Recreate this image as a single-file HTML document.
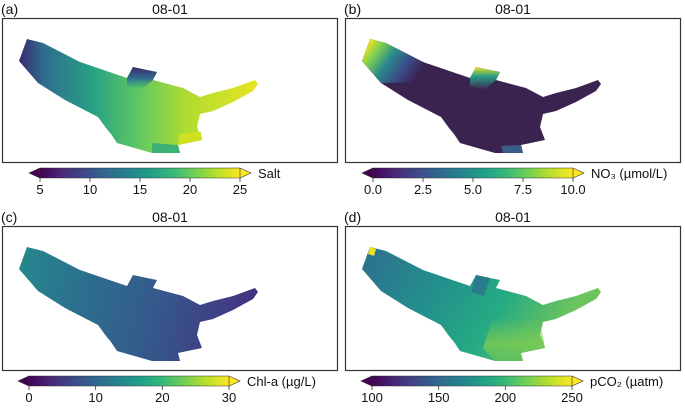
<!DOCTYPE html>
<html><head><meta charset="utf-8"><style>
body{margin:0;background:#fff;}
svg{display:block;font-family:"Liberation Sans",sans-serif;}
</style></head><body>
<svg id="fig" width="685" height="408" viewBox="0 0 685 408">
<defs>
<linearGradient id="viridis" x1="0" x2="1" y1="0" y2="0">
<stop offset="0" stop-color="#440154"/><stop offset="0.11" stop-color="#482878"/><stop offset="0.22" stop-color="#3e4989"/><stop offset="0.33" stop-color="#31688e"/><stop offset="0.44" stop-color="#26828e"/><stop offset="0.55" stop-color="#1f9e89"/><stop offset="0.66" stop-color="#35b779"/><stop offset="0.77" stop-color="#6ece58"/><stop offset="0.88" stop-color="#b5de2b"/><stop offset="1" stop-color="#fde725"/>
</linearGradient>
<linearGradient id="ga" gradientUnits="userSpaceOnUse" x1="20" x2="258" y1="0" y2="0">
<stop offset="0" stop-color="#3b2a6e"/><stop offset="0.1" stop-color="#2f6d8e"/><stop offset="0.3" stop-color="#27a085"/><stop offset="0.5" stop-color="#60c862"/><stop offset="0.7" stop-color="#b0dc30"/><stop offset="1" stop-color="#e6e420"/>
</linearGradient>
<linearGradient id="gaC" x1="0" x2="0" y1="0" y2="1">
<stop offset="0" stop-color="#3b2a6e"/><stop offset="0.5" stop-color="#2f6d8e"/><stop offset="1" stop-color="#27a085" stop-opacity="0"/>
</linearGradient>
<linearGradient id="gbT" gradientUnits="userSpaceOnUse" x1="27" x2="75" y1="40" y2="75">
<stop offset="0" stop-color="#f0e020"/><stop offset="0.2" stop-color="#7fd050"/><stop offset="0.45" stop-color="#2a8a8c"/><stop offset="0.75" stop-color="#3b4a88"/><stop offset="1" stop-color="#3b2350"/>
</linearGradient>
<linearGradient id="gbC" x1="0" x2="0" y1="0" y2="1">
<stop offset="0" stop-color="#e8e020"/><stop offset="0.4" stop-color="#2aa087"/><stop offset="1" stop-color="#3b2350"/>
</linearGradient>
<linearGradient id="gc" gradientUnits="userSpaceOnUse" x1="20" x2="258" y1="40" y2="100">
<stop offset="0" stop-color="#24898c"/><stop offset="0.25" stop-color="#2b728e"/><stop offset="0.6" stop-color="#35598c"/><stop offset="1" stop-color="#45307f"/>
</linearGradient>
<linearGradient id="gd" gradientUnits="userSpaceOnUse" x1="20" x2="200" y1="40" y2="150">
<stop offset="0" stop-color="#2d6f8e"/><stop offset="0.4" stop-color="#23908c"/><stop offset="0.7" stop-color="#25ab82"/><stop offset="1" stop-color="#6cc45c"/>
</linearGradient>
<linearGradient id="gdF" x1="0" x2="0" y1="0" y2="1">
<stop offset="0" stop-color="#7ccc52" stop-opacity="0"/><stop offset="0.6" stop-color="#7ccc52" stop-opacity="0.8"/><stop offset="1" stop-color="#6cc45c" stop-opacity="0.6"/>
</linearGradient>
</defs>

<g id="panels"></g>
<g id="bars"></g>
</svg>
<script>
// shape outline (panel a coords)
const shapePts = "27,39 43,43 80,62 127,78 133,67 147,70 157,72 153,80 183,88 200,97 213,93 233,88 255,80 258,84 253,91 233,102 213,111 200,114 197,127 202,140 178,145 180,153 152,153 117,143 111,134 106,128 98,117 65,100 38,83 19,61";
const channelPts = "133,67 147,70 157,72 153,80 141,90 127,86 127,78";

// colorbar data
const panelLabels = ["(a)","(b)","(c)","(d)"];
const panelTitles = ["08-01","08-01","08-01","08-01"];
const varNames = ["Salt","NO₃ (µmol/L)","Chl-a (µg/L)","pCO₂ (µatm)"];
const ticksA = [5,10,15,20,25];
const ticksB = ["0.0","2.5","5.0","7.5","10.0"];
const ticksC = [0,10,20,30];
const ticksD = [100,150,200,250];
const tickSets = [ticksA,ticksB,ticksC,ticksD];
const fills = ["url(#ga)","#3b2350","url(#gc)","url(#gd)"];
const offsets = [[0,0],[343,0],[0,208],[343,208]];
const barLeft = [40,373,29,372];
const barW = 200;
const NS="http://www.w3.org/2000/svg";
function mk(t,a,p){const e=document.createElementNS(NS,t);for(const k in a)e.setAttribute(k,a[k]);p.appendChild(e);return e;}
const P=document.getElementById('panels'), B=document.getElementById('bars');

for(let i=0;i<4;i++){
  const [ox,oy]=offsets[i];
  const g=mk('g',{transform:`translate(${ox},${oy})`},P);
  
  
  const box=mk('rect',{x:2.5,y:18.5,width:335,height:144,fill:'none',stroke:'#333','stroke-width':1.2},g);
  
  
  const lab=mk('text',{x:1,y:14,'font-size':14,fill:'#111'},g); lab.textContent=panelLabels[i];
  
  
  const ti=mk('text',{x:170,y:14,'font-size':14,fill:'#111','text-anchor':'middle'},g); ti.textContent=panelTitles[i];
  
  
  const sh=mk('polygon',{points:shapePts,fill:fills[i]},g);
  
  
  if(i===0){
    const c=mk('polygon',{points:channelPts,fill:'url(#gaC)'},g);
    
    
    mk('polygon',{points:"152,143 178,145 180,153 152,153",fill:'#3cb374'},g);
    mk('polygon',{points:"179,134 201,132 202,140 178,145",fill:'#d0e020'},g);
  }
  if(i===1){
    mk('polygon',{points:"27,39 43,43 80,62 75,82 38,83 19,61",fill:'url(#gbT)'},g);
    const c=mk('polygon',{points:channelPts,fill:'url(#gbC)'},g);
    
    
    mk('polygon',{points:"158,146 178,145 180,153 160,153",fill:'#3a5d8c'},g);
  }
  if(i===3){
    mk('polygon',{points:"27,39 33,41 31,48 25,46",fill:'#e8e020'},g);
    mk('polygon',{points:"133,67 147,70 141,88 128,84",fill:'#2c6c8e',opacity:0.7},g);
    mk('polygon',{points:"150,110 197,112 202,140 178,145 180,153 152,153 140,140",fill:'url(#gdF)'},g);
  }
  // colorbar
  const bx=barLeft[i], by=168+oy, bh=10;
  const cb=mk('g',{},B);
  
  
  mk('rect',{x:bx,y:by,width:barW,height:bh,fill:'url(#viridis)'},cb);
  mk('polygon',{points:`${bx},${by} ${bx-11},${by+bh/2} ${bx},${by+bh}`,fill:'#440154',stroke:'#333','stroke-width':0.6},cb);
  mk('polygon',{points:`${bx+barW},${by} ${bx+barW+11},${by+bh/2} ${bx+barW},${by+bh}`,fill:'#fde725',stroke:'#333','stroke-width':0.6},cb);
  mk('polyline',{points:`${bx},${by} ${bx+barW},${by}`,fill:'none',stroke:'#333','stroke-width':0.6},cb);
  mk('polyline',{points:`${bx},${by+bh} ${bx+barW},${by+bh}`,fill:'none',stroke:'#333','stroke-width':0.6},cb);
  const tk=tickSets[i], n=tk.length;
  for(let j=0;j<n;j++){
    const x=bx+barW*j/(n-1);
    mk('line',{x1:x,x2:x,y1:by+bh,y2:by+bh+4,stroke:'#333','stroke-width':0.8},cb);
    const t=mk('text',{x:x,y:by+26,'font-size':13,fill:'#111','text-anchor':'middle'},cb); t.textContent=tk[j];
    
    
  }
  const vn=mk('text',{x:bx+barW+18,y:by+10,'font-size':13,fill:'#111'},cb); vn.textContent=varNames[i];
  
  
}
</script>
</body></html>
